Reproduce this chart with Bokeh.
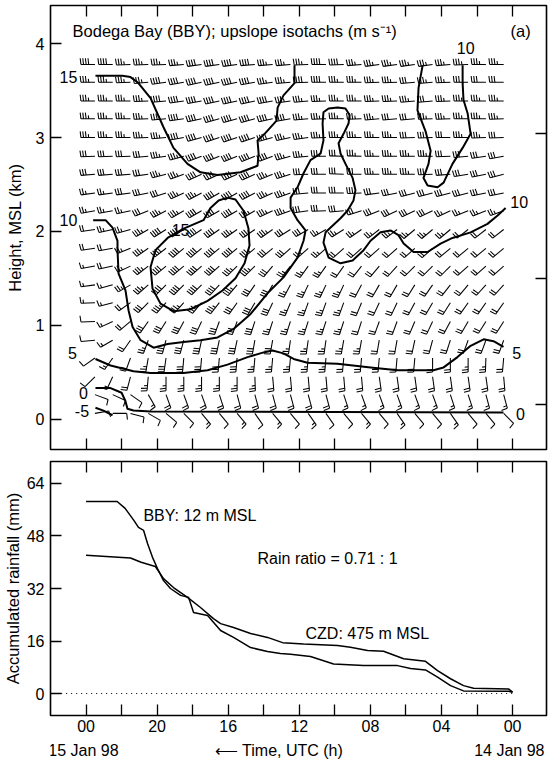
import math
from bokeh.plotting import figure
from bokeh.models import Range1d, LinearAxis, FixedTicker, Label, ColumnDataSource
from bokeh.layouts import column
from bokeh.core.properties import value
from bokeh.embed import file_html
from bokeh.resources import INLINE

FONT = "Liberation Sans"

# ---------------------------------------------------------------- profiler winds
# Column times in hours after 14 Jan 00 UTC, gate heights in km MSL
GATE_HOURS = [23.5, 22.5, 21.5, 20.5, 19.5, 18.5, 17.5, 16.5, 15.5, 14.5, 13.5, 12.5,
              11.5, 10.5, 9.5, 8.5, 7.5, 6.5, 5.5, 4.5, 3.5, 2.5, 1.5, 0.5]
GATE_KM = [0.06, 0.26, 0.45, 0.65, 0.84, 1.04, 1.24, 1.43, 1.63, 1.82,
           2.02, 2.22, 2.41, 2.61, 2.80, 3.00, 3.20, 3.39, 3.59, 3.78]

# Wind direction (deg) per gate, lowest gate first, columns in GATE_HOURS order
WIND_DIR = [
    [80, 90, 105, 120, 130, 135, 140, 140, 140, 145, 140, 140, 145, 145, 140, 140, 140, 145, 140, 140, 145, 140, 140, 135],
    [110, 115, 125, 150, 160, 160, 160, 162, 165, 165, 165, 165, 165, 165, 162, 160, 160, 160, 160, 160, 162, 162, 165, 165],
    [225, 205, 195, 185, 180, 180, 180, 180, 180, 178, 175, 175, 175, 175, 175, 175, 172, 172, 172, 172, 172, 172, 172, 175],
    [235, 215, 200, 190, 188, 185, 185, 185, 185, 185, 185, 185, 185, 185, 185, 185, 185, 185, 185, 180, 180, 180, 182, 185],
    [265, 240, 215, 200, 195, 195, 192, 192, 192, 190, 190, 188, 188, 188, 190, 190, 190, 190, 192, 195, 198, 200, 200, 200],
    [268, 245, 230, 215, 212, 208, 205, 200, 200, 198, 198, 198, 198, 198, 198, 198, 200, 200, 203, 205, 208, 210, 212, 212],
    [268, 255, 235, 225, 222, 222, 220, 218, 215, 210, 205, 202, 200, 200, 200, 202, 205, 205, 208, 210, 212, 215, 215, 215],
    [262, 255, 240, 228, 225, 225, 225, 222, 220, 215, 210, 208, 205, 205, 205, 208, 210, 210, 212, 215, 218, 220, 222, 222],
    [260, 258, 245, 232, 230, 230, 228, 228, 225, 225, 220, 218, 215, 215, 215, 218, 220, 222, 225, 225, 225, 228, 228, 228],
    [262, 260, 248, 235, 232, 230, 230, 230, 230, 230, 230, 228, 228, 228, 228, 228, 228, 228, 228, 228, 230, 230, 230, 230],
    [262, 258, 255, 240, 238, 238, 236, 235, 235, 235, 235, 238, 240, 240, 238, 235, 232, 232, 230, 230, 230, 232, 232, 232],
    [260, 260, 258, 248, 242, 240, 240, 240, 240, 240, 245, 250, 262, 268, 265, 252, 248, 245, 245, 245, 245, 248, 248, 250],
    [262, 262, 262, 258, 252, 245, 242, 240, 240, 242, 245, 250, 265, 270, 270, 268, 262, 258, 255, 255, 255, 255, 258, 258],
    [265, 265, 265, 262, 255, 250, 245, 245, 245, 245, 248, 252, 268, 270, 272, 270, 270, 270, 270, 268, 265, 260, 258, 255],
    [268, 268, 268, 265, 262, 255, 250, 248, 248, 248, 250, 255, 265, 270, 272, 272, 270, 270, 270, 270, 268, 265, 262, 260],
    [270, 270, 270, 268, 265, 260, 255, 252, 252, 252, 255, 258, 262, 268, 270, 270, 270, 270, 268, 268, 270, 270, 268, 268],
    [270, 270, 270, 268, 265, 262, 258, 255, 255, 255, 258, 260, 265, 268, 270, 268, 265, 265, 265, 268, 268, 270, 270, 268],
    [270, 270, 270, 268, 265, 262, 260, 258, 258, 258, 260, 262, 265, 268, 270, 270, 268, 268, 265, 265, 268, 270, 270, 270],
    [270, 270, 268, 265, 262, 260, 258, 258, 258, 260, 262, 265, 268, 270, 270, 270, 268, 268, 265, 265, 268, 270, 270, 270],
    [270, 270, 268, 268, 268, 265, 262, 262, 262, 265, 265, 265, 268, 270, 268, 265, 262, 262, 262, 262, 265, 268, 270, 270],
]

# Wind speed (m/s) per gate, same layout as WIND_DIR
WIND_SPD = [
    [5, 5, 5, 5, 5, 5, 7.5, 5, 7.5, 5, 7.5, 5, 7.5, 5, 5, 7.5, 5, 7.5, 5, 5, 7.5, 5, 5, 5],
    [5, 5, 5, 7.5, 10, 10, 10, 10, 10, 10, 10, 10, 10, 10, 7.5, 7.5, 7.5, 7.5, 7.5, 7.5, 7.5, 7.5, 7.5, 7.5],
    [5, 7.5, 10, 12.5, 12.5, 12.5, 12.5, 12.5, 12.5, 12.5, 10, 10, 10, 10, 10, 10, 10, 10, 10, 10, 10, 10, 10, 10],
    [5, 7.5, 10, 12.5, 15, 15, 15, 15, 15, 12.5, 12.5, 12.5, 12.5, 12.5, 10, 10, 10, 10, 10, 10, 10, 12.5, 12.5, 10],
    [5, 7.5, 10, 12.5, 15, 15, 15, 15, 15, 15, 15, 12.5, 12.5, 12.5, 12.5, 12.5, 10, 10, 10, 10, 10, 10, 10, 10],
    [5, 7.5, 10, 15, 15, 15, 15, 15, 15, 15, 12.5, 12.5, 12.5, 12.5, 12.5, 10, 10, 10, 10, 10, 10, 10, 10, 10],
    [7.5, 7.5, 10, 15, 17.5, 17.5, 17.5, 17.5, 15, 15, 15, 12.5, 12.5, 12.5, 12.5, 10, 10, 10, 10, 10, 10, 10, 10, 10],
    [7.5, 7.5, 12.5, 17.5, 20, 20, 20, 20, 17.5, 15, 15, 12.5, 12.5, 12.5, 12.5, 10, 10, 10, 10, 10, 10, 10, 10, 10],
    [7.5, 10, 12.5, 17.5, 20, 20, 20, 20, 17.5, 17.5, 15, 12.5, 12.5, 12.5, 10, 10, 10, 10, 10, 10, 10, 10, 10, 10],
    [10, 10, 12.5, 17.5, 20, 20, 20, 20, 20, 17.5, 15, 15, 12.5, 12.5, 10, 10, 10, 10, 10, 10, 10, 10, 10, 10],
    [10, 12.5, 12.5, 17.5, 20, 20, 20, 20, 17.5, 17.5, 17.5, 15, 15, 12.5, 12.5, 12.5, 12.5, 12.5, 12.5, 12.5, 12.5, 10, 10, 10],
    [12.5, 12.5, 12.5, 15, 17.5, 17.5, 20, 20, 20, 17.5, 17.5, 17.5, 15, 15, 15, 15, 15, 15, 15, 15, 12.5, 12.5, 12.5, 12.5],
    [12.5, 12.5, 15, 15, 15, 17.5, 17.5, 20, 20, 20, 17.5, 17.5, 15, 15, 15, 15, 15, 15, 15, 15, 15, 15, 15, 15],
    [15, 15, 15, 15, 17.5, 17.5, 20, 20, 20, 20, 17.5, 17.5, 15, 15, 15, 15, 17.5, 17.5, 17.5, 15, 15, 15, 15, 15],
    [15, 15, 15, 15, 17.5, 17.5, 20, 20, 20, 20, 20, 17.5, 17.5, 17.5, 15, 17.5, 17.5, 17.5, 17.5, 17.5, 15, 15, 15, 15],
    [17.5, 17.5, 17.5, 17.5, 17.5, 20, 20, 20, 20, 20, 20, 17.5, 17.5, 17.5, 17.5, 17.5, 17.5, 17.5, 15, 15, 15, 17.5, 17.5, 15],
    [17.5, 17.5, 17.5, 17.5, 17.5, 20, 20, 20, 20, 20, 20, 20, 17.5, 17.5, 17.5, 17.5, 17.5, 15, 15, 17.5, 17.5, 17.5, 17.5, 17.5],
    [17.5, 17.5, 17.5, 17.5, 20, 20, 20, 20, 20, 20, 20, 17.5, 17.5, 17.5, 17.5, 17.5, 17.5, 17.5, 17.5, 15, 17.5, 17.5, 17.5, 17.5],
    [17.5, 17.5, 17.5, 17.5, 20, 20, 20, 20, 20, 20, 17.5, 17.5, 20, 20, 17.5, 17.5, 17.5, 17.5, 15, 17.5, 17.5, 15, 15, 15],
    [20, 20, 17.5, 17.5, 17.5, 17.5, 20, 20, 20, 20, 17.5, 17.5, 17.5, 20, 20, 17.5, 17.5, 17.5, 17.5, 17.5, 17.5, 17.5, 17.5, 17.5],
]

# ---------------------------------------------------------------- upslope isotachs (hour, km)
ISO15_NW_HOUR = [23.47, 21.95, 21.5, 21.10, 20.37, 19.64, 19.08, 18.29, 17.56, 16.60, 15.31,
                 14.35, 14.29, 14.35, 13.90, 13.28, 13.22, 12.89, 12.27, 12.27]
ISO15_NW_KM = [3.66, 3.66, 3.645, 3.59, 3.42, 3.11, 2.89, 2.72, 2.63, 2.60, 2.63,
               2.70, 2.83, 2.97, 3.05, 3.18, 3.32, 3.45, 3.58, 3.77]

ISO10_NE_HOUR = [5.06, 5.29, 5.35, 4.90, 4.61, 4.73, 5.01, 4.78, 4.22, 3.88, 3.38,
                 2.81, 2.36, 2.53, 2.76, 2.81, 2.81]
ISO10_NE_KM = [3.77, 3.53, 3.29, 3.07, 2.86, 2.72, 2.57, 2.49, 2.47, 2.52, 2.72,
               2.89, 3.04, 3.26, 3.40, 3.58, 3.77]

ISO15_MID_HOUR = [16.04, 16.54, 17.00, 17.39, 18.51, 19.41, 20.09, 20.37, 20.26, 19.81, 19.08,
                  18.12, 17.16, 16.32, 15.59, 15.08, 14.80, 14.86, 15.14, 15.59, 16.04]
ISO15_MID_KM = [2.36, 2.33, 2.25, 2.12, 2.03, 1.93, 1.80, 1.62, 1.39, 1.23, 1.15,
                1.17, 1.26, 1.37, 1.50, 1.66, 1.85, 2.03, 2.22, 2.34, 2.36]

ISO10_HOUR = [23.6, 22.90, 22.51, 22.23, 22.23, 22.17, 21.78, 21.61, 21.38, 20.93, 20.20,
              19.41, 18.51, 17.56, 16.60, 15.70, 14.74, 13.79, 12.89, 12.10, 11.76, 11.65,
              12.10, 12.49, 12.49, 12.10, 11.76, 11.37, 10.80, 10.64, 10.69, 10.64, 10.35,
              9.85, 9.40, 9.17, 9.23, 9.51, 9.79, 9.68, 9.40, 9.00, 8.84, 8.95, 9.29, 9.68,
              10.07, 10.52, 10.64, 10.35, 9.68, 9.00, 8.38, 7.99, 7.43, 6.87, 6.42, 6.13,
              5.57, 4.78, 4.05, 3.38, 2.36, 1.41, 0.84, 0.39]
ISO10_KM = [2.12, 2.12, 2.04, 1.90, 1.80, 1.55, 1.37, 1.16, 0.98, 0.84, 0.76,
            0.80, 0.82, 0.84, 0.87, 0.96, 1.12, 1.34, 1.51, 1.72, 1.90, 2.01,
            2.12, 2.25, 2.36, 2.47, 2.62, 2.76, 2.83, 2.97, 3.15, 3.27, 3.31,
            3.32, 3.31, 3.24, 3.15, 3.04, 2.94, 2.83, 2.72, 2.57, 2.44, 2.33, 2.22, 2.14,
            2.07, 1.99, 1.88, 1.72, 1.66, 1.69, 1.80, 1.90, 1.99, 2.01, 1.96, 1.87,
            1.78, 1.78, 1.87, 1.93, 1.99, 2.08, 2.17, 2.25]

ISO5_HOUR = [23.47, 22.62, 21.33, 20.37, 18.51, 17.16, 16.04, 14.91, 14.01, 13.51, 12.89,
             12.32, 11.54, 9.85, 7.99, 6.47, 4.45, 3.88, 3.10, 2.36, 1.63, 1.07, 0.51]
ISO5_KM = [0.64, 0.57, 0.51, 0.49, 0.49, 0.52, 0.58, 0.66, 0.71, 0.73, 0.70,
           0.64, 0.60, 0.59, 0.55, 0.52, 0.52, 0.55, 0.66, 0.78, 0.85, 0.83, 0.77]

ISO0_HOUR = [23.47, 22.62, 22.0, 21.78, 21.67, 21.33, 20.37, 0.51]
ISO0_KM = [0.33, 0.33, 0.28, 0.19, 0.11, 0.09, 0.08, 0.07]

ISO_M5_HOUR = [23.47, 23.02, 22.51]
ISO_M5_KM = [0.12, 0.09, 0.04]

ISO_LABEL_TEXT = ["15", "10", "15", "10", "10", "5", "5", "0", "0", "-5"]
ISO_LABEL_HOUR = [24.99, 2.64, 18.68, 24.99, -0.37, 24.76, -0.23, 24.14, -0.45, 24.23]
ISO_LABEL_KM = [3.65, 3.95, 2.02, 2.12, 2.31, 0.70, 0.70, 0.28, 0.05, 0.09]

# ---------------------------------------------------------------- accumulated rainfall
BBY_HOUR = [24.0, 22.25, 21.8, 21.3, 21.05, 20.76, 20.54, 20.26, 19.98, 19.64, 19.25,
            18.68, 18.23, 17.95, 17.16, 16.43, 15.7, 14.74, 13.79, 13.06, 12.49, 11.37,
            10.07, 8.38, 6.47, 5.74, 4.9, 4.22, 3.49, 2.76, 0.23, 0.0]
BBY_MM = [58.5, 58.5, 56.4, 52.7, 50.6, 49.7, 45.7, 41.5, 38.1, 34.4, 32.0,
          29.9, 29.3, 24.7, 23.8, 19.2, 17.1, 14.0, 12.8, 12.2, 12.0, 11.3,
          9.0, 8.5, 8.5, 7.6, 7.2, 5.0, 2.4, 0.8, 0.7, 0.4]

CZD_HOUR = [24.0, 21.5, 20.9, 20.1, 19.64, 19.08, 18.29, 17.56, 16.83, 16.43, 15.7,
            14.74, 13.79, 12.94, 11.76, 9.85, 9.12, 8.16, 7.26, 6.13, 4.9, 4.22,
            3.49, 2.76, 2.19, 0.23, 0.0]
CZD_MM = [42.1, 41.3, 40.0, 38.7, 35.0, 32.3, 29.3, 26.2, 22.8, 21.3, 20.1,
          18.3, 17.1, 15.5, 15.1, 14.6, 14.1, 13.1, 12.9, 10.6, 9.8, 7.0,
          4.5, 2.4, 1.6, 1.4, 0.4]

TIME_TICKS = [0, 2, 4, 6, 8, 10, 12, 14, 16, 18, 20, 22, 24]
TIME_LABELS = {24: "00", 20: "20", 16: "16", 12: "12", 8: "08", 4: "04", 0: "00"}
HEIGHT_TICKS = [0, 1, 2, 3, 4]
PRESSURE_LEVEL_KM = [0.155, 1.5, 3.04]
RAIN_TICKS = [0, 16, 32, 48, 64]

DATE_TEXT = ["15 Jan 98", "\u27f5 Time, UTC (h)", "14 Jan 98"]
DATE_HOUR = [24.14, 16.71, 0.08]
DATE_ALIGN = ["center", "left", "center"]

# ---------------------------------------------------------------- layout
FRAME_W = 496
X_START, X_END = 26.0, -1.91
TOP_FRAME_H = 444
Z_START, Z_END = -0.325, 4.408
BOT_FRAME_H = 254
R_START, R_END = -6.7, 70.7

HOUR_PER_PX = (X_END - X_START) / FRAME_W
KM_PER_PX = (Z_END - Z_START) / TOP_FRAME_H

STAFF = 14.0
FEATHER = 6.2
GAP = 2.6


def barb(hour, km, ddeg, spd):
    """Segments of one wind barb (staff toward the source, feathers on the NH side)."""
    a = math.radians(ddeg)
    sx, sy = math.sin(a), math.cos(a)
    rx, ry = sy, -sx

    def pt(px, py):
        return hour + px * HOUR_PER_PX, km + py * KM_PER_PX

    segs = [(pt(0, 0), pt(sx * STAFF, sy * STAFF))]
    n_full = int(spd // 5 + 1e-9)
    half = (spd - 5 * n_full) >= 2.5 - 1e-9
    pos = 1 if (n_full == 0 and half) else 0
    lengths = [FEATHER] * n_full + ([FEATHER * 0.55] if half else [])
    for ln in lengths:
        d = STAFF - GAP * pos
        bx, by = sx * d, sy * d
        ex, ey = bx + rx * ln + sx * ln * 0.12, by + ry * ln + sy * ln * 0.12
        segs.append((pt(bx, by), pt(ex, ey)))
        pos += 1
    return segs


def style_axis(ax, labels=True, size="16px"):
    ax.axis_line_color = None
    ax.major_tick_in = 11
    ax.major_tick_out = 0
    ax.major_tick_line_color = "black"
    ax.major_tick_line_width = 1.3
    ax.minor_tick_line_color = None
    ax.major_label_text_font = FONT
    ax.axis_label_text_font = FONT
    ax.axis_label_text_font_style = "normal"
    ax.axis_label_text_color = "black"
    ax.axis_label_text_font_size = "16.5px"
    if labels:
        ax.major_label_text_font_size = size
        ax.major_label_text_color = "black"
    else:
        # tick marks only
        ax.major_label_text_font_size = "1px"
        ax.major_label_text_color = None
        ax.major_label_standoff = 0


def base_figure(height, x_range, y_range, top, bottom, right=2):
    p = figure(width=548, height=height, x_range=x_range, y_range=y_range,
               output_backend="svg", toolbar_location=None,
               x_axis_location=None, y_axis_location=None,
               min_border_left=50, min_border_right=right,
               min_border_top=top, min_border_bottom=bottom)
    p.grid.visible = False
    p.outline_line_color = "black"
    p.outline_line_width = 1.6
    p.background_fill_color = "white"
    p.border_fill_color = "white"
    return p


# ---------------------------------------------------------------- upper panel
p1 = base_figure(455, Range1d(X_START, X_END), Range1d(Z_START, Z_END), 5, 6)

left1 = LinearAxis(ticker=FixedTicker(ticks=HEIGHT_TICKS), axis_label="Height, MSL (km)")
style_axis(left1)
left1.major_label_standoff = 6
left1.axis_label_standoff = 9
p1.add_layout(left1, "left")

right1 = LinearAxis(ticker=FixedTicker(ticks=PRESSURE_LEVEL_KM))
style_axis(right1, labels=False)
p1.add_layout(right1, "right")

for loc in ("below", "above"):
    ax = LinearAxis(ticker=FixedTicker(ticks=TIME_TICKS))
    style_axis(ax, labels=False)
    p1.add_layout(ax, loc)

bx, by = [], []
for zi, km in enumerate(GATE_KM):
    for ci, hr in enumerate(GATE_HOURS):
        for (x0, y0), (x1, y1) in barb(hr, km, WIND_DIR[zi][ci], WIND_SPD[zi][ci]):
            bx.append([x0, x1])
            by.append([y0, y1])
p1.multi_line(bx, by, line_color="black", line_width=1.05)

iso_x = [ISO15_NW_HOUR, ISO10_NE_HOUR, ISO15_MID_HOUR, ISO10_HOUR, ISO5_HOUR, ISO0_HOUR, ISO_M5_HOUR]
iso_y = [ISO15_NW_KM, ISO10_NE_KM, ISO15_MID_KM, ISO10_KM, ISO5_KM, ISO0_KM, ISO_M5_KM]
p1.multi_line(iso_x, iso_y, line_color="black", line_width=2.0, line_join="round")

lab_src = ColumnDataSource(dict(x=ISO_LABEL_HOUR, y=ISO_LABEL_KM, t=ISO_LABEL_TEXT))
p1.text(x="x", y="y", text="t", source=lab_src, text_font=value(FONT), text_font_size="16px",
        text_align="center", text_baseline="middle", text_color="black")

p1.add_layout(Label(x=24.76, y=4.14, text="Bodega Bay (BBY); upslope isotachs (m s\u207b\u00b9)",
                    text_font=FONT, text_font_size="16.5px", text_baseline="middle",
                    text_align="left", text_color="black"))
p1.add_layout(Label(x=-0.45, y=4.14, text="(a)", text_font=FONT, text_font_size="16.5px",
                    text_baseline="middle", text_align="center", text_color="black"))

# ---------------------------------------------------------------- lower panel
p2 = base_figure(284, p1.x_range, Range1d(R_START, R_END), 6, 24)

left2 = LinearAxis(ticker=FixedTicker(ticks=RAIN_TICKS), axis_label="Accumulated rainfall (mm)")
style_axis(left2)
left2.major_label_standoff = 6
left2.axis_label_standoff = 2
p2.add_layout(left2, "left")

bottom2 = LinearAxis(ticker=FixedTicker(ticks=TIME_TICKS))
style_axis(bottom2)
bottom2.major_label_standoff = 4
bottom2.major_label_overrides = {t: TIME_LABELS.get(t, "") for t in TIME_TICKS}
p2.add_layout(bottom2, "below")

top2 = LinearAxis(ticker=FixedTicker(ticks=TIME_TICKS))
style_axis(top2, labels=False)
p2.add_layout(top2, "above")

p2.line([25.4, 0.0], [0, 0], line_color="black", line_width=1.0, line_dash="1 4")
p2.line(BBY_HOUR, BBY_MM, line_color="black", line_width=1.5)
p2.line(CZD_HOUR, CZD_MM, line_color="black", line_width=1.5)

for txt, hx, ry in (("BBY: 12 m MSL", 20.77, 54.3),
                    ("Rain ratio = 0.71 : 1", 14.35, 41.1),
                    ("CZD: 475 m MSL", 11.65, 18.3)):
    p2.add_layout(Label(x=hx, y=ry, text=txt, text_font=FONT, text_font_size="16px",
                        text_baseline="middle", text_align="left", text_color="black"))

# ---------------------------------------------------------------- date / time caption strip
p3 = base_figure(22, Range1d(X_START, X_END + 2 * HOUR_PER_PX), Range1d(0, 1), 0, 0, right=0)
p3.outline_line_color = None
p3.min_border_left = 50
cap_src = ColumnDataSource(dict(x=DATE_HOUR, y=[0.5] * 3, t=DATE_TEXT, a=DATE_ALIGN))
p3.text(x="x", y="y", text="t", text_align="a", source=cap_src, text_font=value(FONT),
        text_font_size="16px", text_baseline="middle", text_color="black")

layout = column(p1, p2, p3, spacing=0)
open("out.html", "w").write(file_html(layout, INLINE))
